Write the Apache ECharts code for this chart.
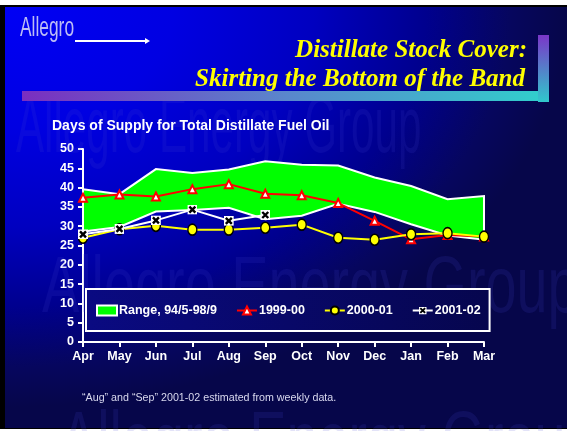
<!DOCTYPE html>
<html>
<head>
<meta charset="utf-8">
<script src="https://cdn.jsdelivr.net/npm/echarts@6/dist/echarts.min.js"></script>
<style>
  body { margin: 0; background: #fff; }
  #frame { position: absolute; left: 0; top: 5px; width: 567px; height: 424px; background: #000; }
  #bg {
    position: absolute; left: 5px; top: 7px; width: 562px; height: 421px;
    background: radial-gradient(ellipse 100% 95% at 0% 0%, #0000f5 0%, #0000e2 30%, #0000c0 55%, #00008e 75%, #06065e 90%, #06064a 100%);
  }
  #main { position: absolute; left: 0; top: 0; width: 567px; height: 431px; }
</style>
</head>
<body>
<div id="frame"></div>
<div id="bg"></div>
<div id="main"></div>
<script>
// months of the heating year
const months = ['Apr', 'May', 'Jun', 'Jul', 'Aug', 'Sep', 'Oct', 'Nov', 'Dec', 'Jan', 'Feb', 'Mar']
// range 94/5 - 98/9, top and bottom of the band
const rangeHigh = [39.6, 38.3, 44.8, 43.8, 44.7, 46.8, 45.9, 45.7, 42.6, 40.4, 37.0, 37.8]
const rangeLow = [28.6, 29.8, 33.8, 34.2, 34.8, 31.8, 32.7, 35.8, 33.7, 30.5, 27.6, 26.5]
const s1999 = [37.4, 38.2, 37.7, 39.6, 40.9, 38.4, 38.0, 36.0, 31.4, 26.6, 27.7, 27.3]
const s2000 = [27.0, 29.2, 30.1, 29.1, 29.1, 29.6, 30.4, 27.0, 26.5, 27.9, 28.2, 27.3]
const s2001 = [27.9, 29.3, 31.5, 34.3, 31.4, 32.9, null, null, null, null, null, null]
const yTicks = [0, 50, 5]

const font = '"Liberation Sans", Arial, sans-serif'
const xSvg = "<svg xmlns='http://www.w3.org/2000/svg' width='10' height='10'>" +
  "<rect width='10' height='10' fill='white'/>" +
  "<path d='M2 2L8 8M8 2L2 8' stroke='black' stroke-width='2.4'/></svg>"
const xSymbol = 'image://data:image/svg+xml;utf8,' + encodeURIComponent(xSvg)

const chart = echarts.init(document.getElementById('main'))

const wm = 'rgba(70,70,210,0.15)'
const wmFont = '62px "Liberation Sans Narrow", sans-serif'
const option = {
  backgroundColor: 'transparent',
  animation: false,
  graphic: [
    { type: 'text', x: 20, y: 28, scaleX: 0.62, z: 1,
      style: { text: 'Allegro', font: '28px "Liberation Sans Narrow", sans-serif', fill: '#bcbcf4', verticalAlign: 'middle' } },
    { type: 'line', z: 1, shape: { x1: 75, y1: 41, x2: 146, y2: 41 }, style: { stroke: '#fff', lineWidth: 2 } },
    { type: 'polygon', z: 1, shape: { points: [[145, 38], [150, 41], [145, 44]] }, style: { fill: '#fff' } },
    { type: 'text', x: 16, y: 130, z: 1, scaleX: 0.68, scaleY: 1.3,
      style: { text: 'Allegro Energy Group', font: wmFont, fill: wm, verticalAlign: 'middle' } },
    { type: 'text', x: 42, y: 290, z: 1, scaleX: 0.9, scaleY: 1.3,
      style: { text: 'Allegro Energy Group', font: wmFont, fill: wm, verticalAlign: 'middle' } },
    { type: 'text', x: 60, y: 445, z: 1, scaleX: 0.9, scaleY: 1.3,
      style: { text: 'Allegro Energy Group', font: wmFont, fill: wm, verticalAlign: 'middle' } },
    { type: 'rect', z: 1, shape: { x: 22, y: 91, width: 526, height: 10 },
      style: { fill: new echarts.graphic.LinearGradient(0, 0, 1, 0, [
        { offset: 0, color: '#7a2ec0' }, { offset: 0.5, color: '#5a86cc' }, { offset: 1, color: '#30d0cc' }]) } },
    { type: 'rect', z: 1, shape: { x: 538, y: 35, width: 11, height: 67 },
      style: { fill: new echarts.graphic.LinearGradient(0, 0, 0, 1, [
        { offset: 0, color: '#7a36c8' }, { offset: 1, color: '#30c8cc' }]) } },
    { type: 'text', x: 527, y: 51, z: 2,
      style: { text: 'Distillate Stock Cover:', font: 'italic bold 25px "Liberation Serif", serif', fill: '#ffff00', align: 'right', verticalAlign: 'middle' } },
    { type: 'text', x: 525, y: 80, z: 2,
      style: { text: 'Skirting the Bottom of the Band', font: 'italic bold 25px "Liberation Serif", serif', fill: '#ffff00', align: 'right', verticalAlign: 'middle' } },
    { type: 'text', x: 52, y: 126, z: 2,
      style: { text: 'Days of Supply for Total Distillate Fuel Oil', font: 'bold 14px ' + font, fill: '#fff', verticalAlign: 'middle' } },
    { type: 'text', x: 82, y: 398, z: 2,
      style: { text: '\u201cAug\u201d and \u201cSep\u201d 2001-02 estimated from weekly data.', font: '10.7px ' + font, fill: '#d8d8ee', verticalAlign: 'middle' } }
  ],
  grid: { left: 83, right: 83, top: 149, bottom: 89 },
  legend: {
    left: 86, top: 289,
    padding: [15, 9, 14, 10],
    itemGap: 19, itemWidth: 20, itemHeight: 10,
    borderColor: '#fff', borderWidth: 2,
    backgroundColor: new echarts.graphic.LinearGradient(0, 0, 1, 0, [
      { offset: 0, color: '#0a0a82' }, { offset: 1, color: '#06064e' }]),
    selectedMode: false,
    textStyle: { color: '#fff', fontWeight: 'bold', fontSize: 12.5, fontFamily: font, padding: [0, 0, 0, -3] },
    data: [
      { name: 'Range, 94/5-98/9', icon: 'rect', itemStyle: { color: '#00ff00', borderColor: '#fff', borderWidth: 2 } },
      { name: '1999-00' }, { name: '2000-01' }, { name: '2001-02' }
    ]
  },
  xAxis: {
    type: 'category', data: months, boundaryGap: false,
    axisLine: { lineStyle: { color: '#fff', width: 2 } },
    axisTick: { show: true, alignWithLabel: true, length: 5, lineStyle: { color: '#fff', width: 2 } },
    axisLabel: { color: '#fff', fontWeight: 'bold', fontSize: 12.5, fontFamily: font, margin: 8 },
    splitLine: { show: false }
  },
  yAxis: {
    type: 'value', min: yTicks[0], max: yTicks[1], interval: yTicks[2],
    axisLine: { show: true, lineStyle: { color: '#fff', width: 2 } },
    axisTick: { show: true, length: 5, lineStyle: { color: '#fff', width: 2 } },
    axisLabel: { color: '#fff', fontWeight: 'bold', fontSize: 12.5, fontFamily: font, margin: 9 },
    splitLine: { show: false }
  },
  series: [
    {
      name: 'Range, 94/5-98/9', type: 'custom', z: 3,
      itemStyle: { color: '#00ff00', borderColor: '#fff', borderWidth: 2 },
      data: months.map((m, i) => [i, rangeLow[i], rangeHigh[i]]),
      renderItem: function(params, api) {
        if (params.dataIndex !== 0) return
        const pts = []
        rangeHigh.forEach((v, i) => pts.push(api.coord([i, v])))
        for (let i = rangeLow.length - 1; i >= 0; i--) pts.push(api.coord([i, rangeLow[i]]))
        return { type: 'polygon', shape: { points: pts }, style: { fill: '#00ff00', stroke: '#fff', lineWidth: 2 } }
      }
    },
    {
      name: '1999-00', type: 'line', z: 4, data: s1999,
      symbol: 'triangle', symbolSize: 8,
      lineStyle: { color: '#ff0000', width: 2 },
      itemStyle: { color: '#fff', borderColor: '#ff0000', borderWidth: 2 }
    },
    {
      name: '2000-01', type: 'line', z: 5, data: s2000,
      symbol: 'circle', symbolSize: [9, 11],
      lineStyle: { color: '#ffff00', width: 2 },
      itemStyle: { color: '#ffff00', borderColor: '#000', borderWidth: 1.5 }
    },
    {
      name: '2001-02', type: 'line', z: 6, data: s2001,
      symbol: xSymbol, symbolSize: 10,
      lineStyle: { color: '#fff', width: 2 },
      itemStyle: { color: '#fff' }
    }
  ]
}
chart.setOption(option)
</script>
</body>
</html>
